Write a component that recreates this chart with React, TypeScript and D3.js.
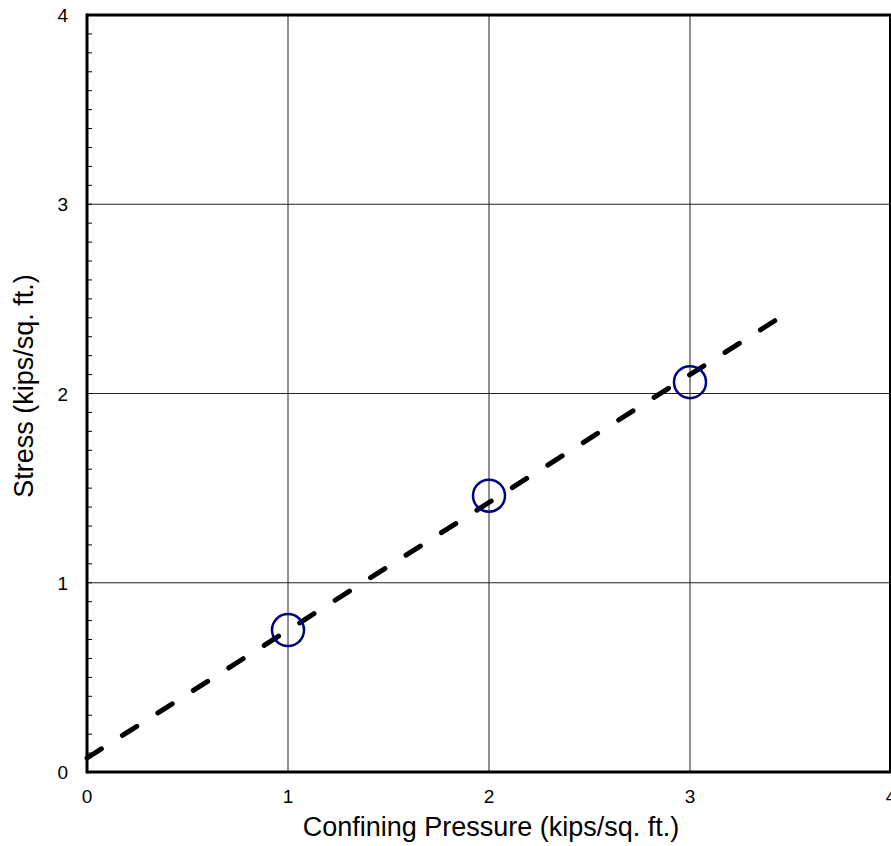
import React, { useRef, useEffect } from "react";
import * as d3 from "d3";

// measured points
const pressure = [1, 2, 3];
const stress = [0.75, 1.46, 2.06];

// fitted dashed line endpoints
const fitX = [0, 3.43];
const fitY = [0.074, 2.39];

const xTicks = [0, 1, 2, 3, 4];
const yTicks = [0, 1, 2, 3, 4];

const W = 891;
const H = 846;

const App = () => {
  const svgRef = useRef<SVGSVGElement>(null);

  useEffect(() => {
    const svg = d3.select(svgRef.current);
    svg.selectAll("*").remove();

    const margin = { top: 15, right: 0, bottom: 74, left: 87 };
    const x = d3.scaleLinear().domain([0, 4]).range([margin.left, margin.left + 804]);
    const y = d3.scaleLinear().domain([0, 4]).range([H - margin.bottom, margin.top]);
    const font = "'Liberation Sans', Arial, sans-serif";

    const g = svg.append("g");

    // grid
    g.selectAll(".gx")
      .data(xTicks.slice(1, -1))
      .enter()
      .append("line")
      .attr("x1", (d) => x(d))
      .attr("x2", (d) => x(d))
      .attr("y1", y(0))
      .attr("y2", y(4))
      .attr("stroke", "#222")
      .attr("stroke-width", 1);
    g.selectAll(".gy")
      .data(yTicks.slice(1, -1))
      .enter()
      .append("line")
      .attr("x1", x(0))
      .attr("x2", W - 1)
      .attr("y1", (d) => y(d))
      .attr("y2", (d) => y(d))
      .attr("stroke", "#222")
      .attr("stroke-width", 1);

    // minor ticks on y axis
    const minor = d3.range(0, 40).map((i) => i / 10).filter((v) => v > 0);
    g.selectAll(".my")
      .data(minor)
      .enter()
      .append("line")
      .attr("x1", x(0))
      .attr("x2", x(0) + 5)
      .attr("y1", (d) => y(d))
      .attr("y2", (d) => y(d))
      .attr("stroke", "#000")
      .attr("stroke-width", 1);

    // frame
    g.append("line").attr("x1", x(0)).attr("x2", W).attr("y1", y(4)).attr("y2", y(4))
      .attr("stroke", "#000").attr("stroke-width", 3);
    g.append("line").attr("x1", x(0)).attr("x2", W).attr("y1", y(0)).attr("y2", y(0))
      .attr("stroke", "#000").attr("stroke-width", 3);
    g.append("line").attr("x1", x(0)).attr("x2", x(0)).attr("y1", y(4) - 1.5).attr("y2", y(0) + 1.5)
      .attr("stroke", "#000").attr("stroke-width", 3);
    g.append("line").attr("x1", W - 1).attr("x2", W - 1).attr("y1", y(4)).attr("y2", y(0))
      .attr("stroke", "#000").attr("stroke-width", 2);

    // tick labels
    g.selectAll(".lx")
      .data(xTicks)
      .enter()
      .append("text")
      .attr("x", (d) => x(d))
      .attr("y", y(0) + 31)
      .attr("text-anchor", "middle")
      .style("font-family", font)
      .style("font-size", "19px")
      .text((d) => d);
    g.selectAll(".ly")
      .data(yTicks)
      .enter()
      .append("text")
      .attr("x", x(0) - 19)
      .attr("y", (d) => y(d) + 7)
      .attr("text-anchor", "end")
      .style("font-family", font)
      .style("font-size", "19px")
      .text((d) => d);

    // axis titles
    g.append("text")
      .attr("x", 491)
      .attr("y", 836)
      .attr("text-anchor", "middle")
      .style("font-family", font)
      .style("font-size", "27px")
      .text("Confining Pressure (kips/sq. ft.)");
    g.append("text")
      .attr("transform", `translate(33,386) rotate(-90)`)
      .attr("text-anchor", "middle")
      .style("font-family", font)
      .style("font-size", "27px")
      .text("Stress (kips/sq. ft.)");

    // dashed fit line
    const line = d3.line<number>().x((d) => x(d)).y((_, i) => y(fitY[i]));
    g.append("path")
      .datum(fitX)
      .attr("d", line)
      .attr("fill", "none")
      .attr("stroke", "#000")
      .attr("stroke-width", 5)
      .attr("stroke-linecap", "round")
      .attr("stroke-dasharray", "17 25");

    // points
    g.selectAll(".pt")
      .data(pressure)
      .enter()
      .append("circle")
      .attr("cx", (d) => x(d))
      .attr("cy", (_, i) => y(stress[i]))
      .attr("r", 16)
      .attr("fill", "none")
      .attr("stroke", "#000080")
      .attr("stroke-width", 2.5);
  }, []);

  return (
    <svg
      ref={svgRef}
      width={W}
      height={H}
      style={{ position: "absolute", left: 0, top: 0, background: "#fff" }}
    />
  );
};

export default App;
